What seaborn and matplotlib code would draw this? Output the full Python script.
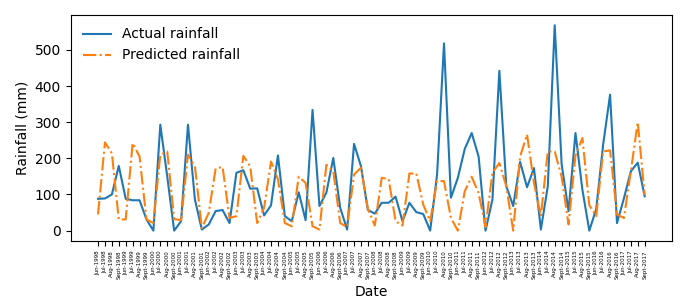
import matplotlib
matplotlib.use("Agg")
import matplotlib.pyplot as plt
import seaborn as sns
import pandas as pd

months = ["Jun", "Jul", "Aug", "Sept"]
years = list(range(1998, 2018))
dates = [f"{m}-{y}" for y in years for m in months]

actual = [
    88, 89, 100, 179, 88, 84, 84, 31, 0, 293,
    150, 0, 26, 293, 86, 3, 17, 54, 57, 21,
    160, 167, 116, 117, 42, 70, 208, 40, 26, 106,
    29, 334, 68, 105, 201, 63, 3, 240, 178, 57,
    47, 77, 77, 94, 26, 77, 51, 46, 0, 155,
    518, 91, 146, 226, 270, 205, 0, 86, 442, 123,
    68, 190, 120, 173, 3, 123, 568, 184, 54, 270,
    113, 0, 60, 238, 376, 21, 89, 164, 188, 95,
]

predicted = [
    45, 244, 214, 31, 31, 242, 205, 31, 21, 210,
    219, 32, 29, 210, 178, 7, 49, 172, 176, 35,
    40, 207, 177, 21, 63, 191, 142, 21, 12, 149,
    132, 12, 3, 182, 164, 21, 10, 155, 174, 60,
    14, 146, 143, 26, 14, 158, 158, 72, 26, 137,
    137, 35, 0, 109, 149, 104, 10, 160, 187, 123,
    0, 205, 266, 132, 40, 219, 219, 149, 17, 208,
    256, 70, 40, 219, 222, 45, 35, 164, 300, 99,
]

df = pd.DataFrame({"idx": range(len(dates)), "actual": actual, "predicted": predicted})

fig = plt.figure(figsize=(7, 3), dpi=100)
ax = fig.add_axes([0.101, 0.197, 0.859, 0.753])

sns.lineplot(x="idx", y="actual", data=df, ax=ax, color="C0", label="Actual rainfall")
sns.lineplot(x="idx", y="predicted", data=df, ax=ax, color="C1", linestyle="-.", label="Predicted rainfall")

ax.set_xticks(df["idx"])
ax.set_xticklabels(dates, rotation=90, fontsize=4)
ax.set_xlabel("Date")
ax.set_ylabel("Rainfall (mm)")
ax.legend(loc="upper left", frameon=False)

plt.savefig("out.png", dpi=100)
